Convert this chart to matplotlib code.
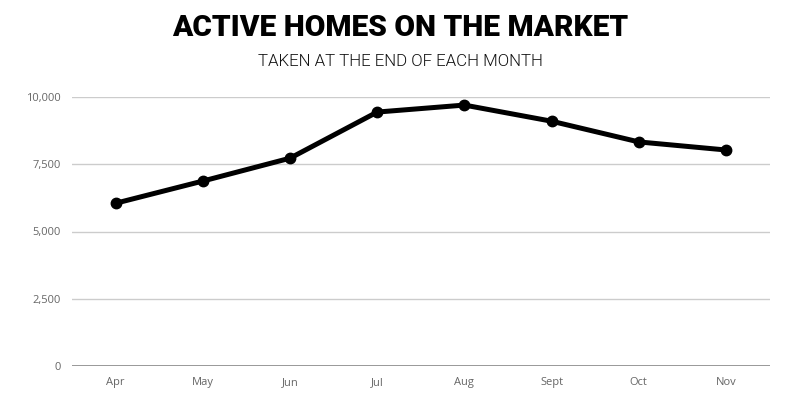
import matplotlib
matplotlib.use("Agg")
import matplotlib.pyplot as plt
from matplotlib.ticker import FuncFormatter

months = ["Apr", "May", "Jun", "Jul", "Aug", "Sept", "Oct", "Nov"]
active_homes = [6050, 6875, 7725, 9440, 9700, 9100, 8330, 8030]
y_ticks = [0, 2500, 5000, 7500, 10000]

fig = plt.figure(figsize=(8, 4), dpi=100)
ax = fig.add_axes([0.09, 0.085, 0.872, 0.6725])

x = list(range(len(months)))
ax.plot(x, active_homes, color="black", linewidth=3.6, marker="o", markersize=7.5,
        solid_capstyle="round", solid_joinstyle="round", zorder=3)

ax.set_xlim(-0.5, len(months) - 0.5)
ax.set_ylim(0, 10000)
ax.set_yticks(y_ticks)
ax.yaxis.set_major_formatter(FuncFormatter(lambda v, p: f"{int(v):,}"))
ax.set_xticks(x)
ax.set_xticklabels(months)

# grid lines, darker baseline
for v in y_ticks[1:]:
    ax.axhline(v, color="#cccccc", linewidth=1.0, zorder=1)
ax.axhline(0, color="#888888", linewidth=1.2, zorder=2)

for s in ax.spines.values():
    s.set_visible(False)
ax.tick_params(length=0, labelsize=8, labelcolor="#666666", pad=8)
for lbl in ax.get_xticklabels() + ax.get_yticklabels():
    lbl.set_family("Open Sans")

fig.text(0.5, 0.93, "ACTIVE HOMES ON THE MARKET", ha="center", va="center",
         fontsize=21.5, fontweight=900, family="Roboto")
fig.text(0.5, 0.845, "TAKEN AT THE END OF EACH MONTH", ha="center", va="center",
         fontsize=12.2, fontweight=300, family="Roboto", color="#111111")

fig.savefig("out.png", dpi=100)
